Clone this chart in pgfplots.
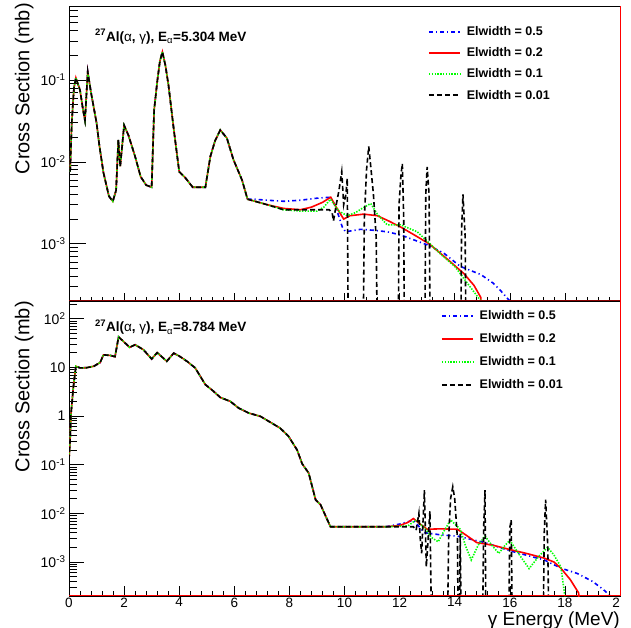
\documentclass[border=0pt]{standalone}
\usepackage{pgfplots}
\pgfplotsset{compat=1.18}
\usepackage{fontspec}
\setmainfont{Liberation Sans}

\definecolor{rblue}{RGB}{0,0,255}
\definecolor{rred}{RGB}{255,0,0}
\definecolor{rgreen}{RGB}{0,255,0}

\tikzset{
  sblue/.style={rblue, line width=1.6pt, dash pattern=on 4pt off 3pt on 1.2pt off 3pt},
  sred/.style={rred, line width=1.6pt},
  sgreen/.style={rgreen, line width=1.6pt, dash pattern=on 1.4pt off 1.4pt},
  sblack/.style={black, line width=1.6pt, dash pattern=on 5pt off 3pt},
}

% 5.304 MeV: part shared by all widths
\pgfplotstableread{
x y
0.04 0.0076
0.1 0.03
0.18 0.08
0.25 0.106
0.4 0.075
0.51 0.043
0.58 0.032
0.68 0.126
0.8 0.07
1.0 0.030
1.1 0.016
1.25 0.0074
1.45 0.0038
1.59 0.0033
1.71 0.0045
1.79 0.0185
1.86 0.0088
2.0 0.028
2.16 0.021
2.4 0.0116
2.6 0.0066
2.8 0.0052
3.0 0.0049
3.09 0.043
3.21 0.10
3.3 0.17
3.39 0.22
3.5 0.15
3.61 0.087
3.79 0.027
4.0 0.0076
4.22 0.0064
4.49 0.0049
4.95 0.0049
5.13 0.0116
5.3 0.018
5.49 0.0245
5.73 0.0195
5.97 0.0106
6.28 0.0060
6.48 0.0035
}\topcommon

% 8.784 MeV: part shared by all widths
\pgfplotstableread{
x y
0.0 0.126
0.04 0.32
0.07 1.06
0.16 4.0
0.25 10.5
0.4 9.7
0.64 9.8
0.9 10.5
1.13 12.5
1.25 18
1.5 17.5
1.67 16.5
1.8 42
2.0 33
2.2 25.7
2.4 29
2.7 23
3.0 14.8
3.2 20
3.55 13.3
3.8 19.5
4.0 17
4.28 13.3
4.58 9.7
4.95 4.4
5.25 3.2
5.49 2.4
5.85 2.0
6.16 1.45
6.52 1.15
6.95 0.98
7.31 0.74
7.67 0.56
7.97 0.38
8.28 0.2
8.46 0.105
8.7 0.067
8.95 0.019
9.13 0.015
9.49 0.0053
11.5 0.0053
}\botcommon

\begin{document}
\begin{tikzpicture}
\path[use as bounding box] (0,0) rectangle (631pt,628pt);

% ---------- top panel ----------
\begin{axis}[at={(69pt,327pt)}, anchor=south west,
    width=551pt, height=295pt, scale only axis,
    xmin=0, xmax=20, ymode=log, ymin=2e-4, ymax=0.8,
    xtick=\empty, ytick pos=left, tick align=inside,
    axis line style={line width=0.8pt},
    every tick/.style={black, line width=0.6pt},
    major tick length=17pt, minor tick length=9pt,
    ytick={1e-3,1e-2,1e-1},
    yticklabels={10\textsuperscript{-3},10\textsuperscript{-2},10\textsuperscript{-1}},
    minor ytick={3e-4,4e-4,5e-4,6e-4,7e-4,8e-4,9e-4,2e-3,3e-3,4e-3,5e-3,6e-3,7e-3,8e-3,9e-3,2e-2,3e-2,4e-2,5e-2,6e-2,7e-2,8e-2,9e-2,2e-1,3e-1,4e-1,5e-1,6e-1,7e-1},
    yticklabel style={font=\fontsize{14}{16}\selectfont},
    ylabel={Cross Section (mb)},
    ylabel style={font=\fontsize{20}{22}\selectfont, inner sep=0pt, at={(axis description cs:-0.0717,1.01)}, anchor=base east},
    legend style={draw=none, fill=none, inner sep=0pt,
      font=\bfseries\fontsize{12.5}{14}\selectfont,
      nodes={inner sep=2pt}, column sep=4pt, row sep=6.5pt,
      at={(axis description cs:0.6515,0.937)}, anchor=north west},
    legend cell align=left,
    legend image code/.code={\draw[#1] (0pt,0pt) -- (31pt,0pt);},
]
\addplot[sblue, forget plot] table {\topcommon};
\addplot[sred, forget plot] table {\topcommon};
\addplot[sgreen, forget plot] table {\topcommon};
\addplot[sblack, forget plot] table {\topcommon};

\addplot[sblue] coordinates {
(6.48,0.0035)(6.7,0.0035)(7.2,0.0034)(7.8,0.0033)(8.4,0.0034)(9.0,0.0036)(9.49,0.0037)
(9.67,0.0029)(9.92,0.0016)(10.04,0.0014)(10.58,0.0015)(11.07,0.00146)(11.55,0.0014)
(12.04,0.00128)(13.0,0.00097)(13.6,0.00077)(14.2,0.00053)(14.95,0.00042)(15.4,0.00033)
(15.7,0.00026)(16.0,0.0002)(16.2,1e-6)(20,1e-6)};
\addlegendentry{Elwidth = 0.5}
\addplot[sred] coordinates {
(6.48,0.0035)(7.19,0.0030)(7.79,0.0027)(8.4,0.0026)(8.8,0.0028)(9.2,0.0032)(9.5,0.0037)
(9.7,0.0028)(9.97,0.0020)(10.2,0.0022)(10.7,0.0023)(11.19,0.0022)(11.6,0.0019)(12.04,0.0016)
(12.5,0.0013)(13.07,0.0010)(13.73,0.00065)(14.34,0.00043)(14.7,0.00031)(14.95,0.00022)
(15.1,1e-6)(20,1e-6)};
\addlegendentry{Elwidth = 0.2}
\addplot[sgreen] coordinates {
(6.48,0.0035)(7.19,0.0030)(7.79,0.0026)(8.4,0.0025)(9.0,0.0025)(9.25,0.0028)(9.49,0.0035)
(9.8,0.0025)(10.1,0.0022)(10.4,0.0024)(10.64,0.0027)(10.95,0.0031)(11.19,0.0023)
(11.55,0.0017)(12.04,0.0017)(12.64,0.0014)(13.2,0.00093)(13.5,0.00074)(14.0,0.00053)
(14.46,0.00033)(14.95,0.0002)(15.1,1e-6)(20,1e-6)};
\addlegendentry{Elwidth = 0.1}
\addplot[sblack] coordinates {
(6.48,0.0035)(7.19,0.0030)(7.79,0.0026)(8.5,0.0026)(9.2,0.0026)(9.45,0.0026)(9.55,0.0024)
(9.6,0.0019)(9.7,0.003)(9.8,0.0045)(9.9,0.0076)(9.97,0.003)(10.05,0.004)(10.1,0.0063)
(10.17,1e-6)(10.62,1e-6)(10.72,0.002)(10.8,0.008)(10.88,0.0154)(10.95,0.009)(11.05,0.004)
(11.15,0.0012)(11.25,1e-6)(11.92,1e-6)(11.98,0.003)(12.05,0.007)(12.1,0.0095)(12.15,0.002)
(12.2,1e-6)(12.88,1e-6)(12.95,0.004)(13.0,0.0087)(13.07,0.004)(13.15,1e-6)(14.18,1e-6)
(14.25,0.0015)(14.3,0.004)(14.38,0.0012)(14.45,1e-6)(20,1e-6)};
\addlegendentry{Elwidth = 0.01}

\node[anchor=base west, inner sep=0pt, font=\bfseries\fontsize{13.5}{15}\selectfont]
  at (axis description cs:0.047,0.881)
  {\textsuperscript{27}Al({\mdseries α}, {\mdseries γ}), E\textsubscript{\mdseries α}=5.304 MeV};
\end{axis}

\begin{axis}[at={(69pt,327pt)}, anchor=south west,
    width=551pt, height=295pt, scale only axis,
    xmin=0, xmax=20, ymin=0, ymax=1,
    hide y axis, axis x line*=bottom, tick align=inside,
    x axis line style={draw=none},
    xtick={0,2,...,20}, minor x tick num=4,
    every tick/.style={black, line width=0.6pt},
    major tick length=8pt, minor tick length=4pt,
    xticklabels={}, clip=false]
\draw[rred, line width=1pt] (rel axis cs:1,0) -- (rel axis cs:1,1);
\draw[rred!55!black, line width=1.4pt] (rel axis cs:0,0) -- (rel axis cs:1,0);
\end{axis}

% ---------- bottom panel ----------
\begin{axis}[at={(69pt,32pt)}, anchor=south west,
    width=551pt, height=295pt, scale only axis,
    xmin=0, xmax=20, ymode=log, ymin=2e-4, ymax=230,
    xtick=\empty, ytick pos=left, tick align=inside,
    axis line style={line width=0.8pt},
    every tick/.style={black, line width=0.6pt},
    major tick length=15pt, minor tick length=8pt,
    ytick={1e-3,1e-2,1e-1,1,10,100},
    yticklabels={10\textsuperscript{-3},10\textsuperscript{-2},10\textsuperscript{-1},1,10,10\textsuperscript{2}},
    minor ytick={3e-4,4e-4,5e-4,6e-4,7e-4,8e-4,9e-4,2e-3,3e-3,4e-3,5e-3,6e-3,7e-3,8e-3,9e-3,2e-2,3e-2,4e-2,5e-2,6e-2,7e-2,8e-2,9e-2,0.2,0.3,0.4,0.5,0.6,0.7,0.8,0.9,2,3,4,5,6,7,8,9,20,30,40,50,60,70,80,90,200},
    yticklabel style={font=\fontsize{14}{16}\selectfont},
    ylabel={Cross Section (mb)},
    ylabel style={font=\fontsize{20}{22}\selectfont, inner sep=0pt, at={(axis description cs:-0.0717,1.0)}, anchor=base east},
    legend style={draw=none, fill=none, inner sep=0pt,
      font=\bfseries\fontsize{12.5}{14}\selectfont,
      nodes={inner sep=2pt}, column sep=4pt, row sep=8.5pt,
      at={(axis description cs:0.675,0.9746)}, anchor=north west},
    legend cell align=left,
    legend image code/.code={\draw[#1] (0pt,0pt) -- (31pt,0pt);},
]
\addplot[sblue, forget plot] table {\botcommon};
\addplot[sred, forget plot] table {\botcommon};
\addplot[sgreen, forget plot] table {\botcommon};
\addplot[sblack, forget plot] table {\botcommon};

\addplot[sblue] coordinates {
(11.5,0.0053)(12.0,0.006)(12.5,0.0072)(12.9,0.0040)(13.5,0.0036)(14.1,0.0034)(15.1,0.0025)
(16.0,0.0017)(17.25,0.0011)(17.85,0.00075)(18.45,0.00058)(19.0,0.0004)(19.4,0.00027)
(19.65,0.0002)(19.8,1e-6)(20,1e-6)};
\addlegendentry{Elwidth = 0.5}
\addplot[sred] coordinates {
(11.5,0.0053)(12.0,0.0056)(12.3,0.0065)(12.5,0.0078)(12.75,0.006)(13.0,0.0047)(13.5,0.0048)
(14.1,0.0047)(14.4,0.0036)(14.8,0.0025)(15.4,0.0022)(16.0,0.0018)(16.6,0.0015)(17.25,0.0012)
(17.6,0.001)(17.85,0.00075)(18.2,0.00043)(18.5,0.00023)(18.6,1e-6)(20,1e-6)};
\addlegendentry{Elwidth = 0.2}
\addplot[sgreen] coordinates {
(11.5,0.0053)(12.3,0.0055)(12.6,0.0073)(12.95,0.0047)(13.15,0.0032)(13.4,0.0026)(13.6,0.0042)
(13.85,0.0073)(14.2,0.0047)(14.4,0.0021)(14.6,0.0011)(14.85,0.0022)(15.1,0.0034)(15.35,0.0022)
(15.6,0.0015)(15.8,0.0021)(16.0,0.0028)(16.35,0.0014)(16.7,0.00073)(17.05,0.0013)
(17.37,0.0020)(17.6,0.0014)(17.85,0.0008)(18.0,0.0002)(18.05,1e-6)(20,1e-6)};
\addlegendentry{Elwidth = 0.1}
\addplot[sblack] coordinates {
(11.5,0.0053)(12.5,0.0053)(12.6,0.0045)(12.7,0.010)(12.75,0.003)(12.8,0.0015)(12.9,0.03)
(12.97,0.0008)(13.05,0.004)(13.1,0.011)(13.2,1e-6)(13.7,1e-6)(13.78,0.003)(13.85,0.02)
(13.93,0.035)(14.0,0.02)(14.1,0.003)(14.15,1e-6)(14.2,0.0038)(14.27,1e-6)(14.98,1e-6)
(15.05,0.005)(15.1,0.03)(15.15,1e-6)(15.93,1e-6)(16.0,0.005)(16.05,0.0073)(16.12,1e-6)
(17.18,1e-6)(17.25,0.004)(17.3,0.019)(17.38,0.002)(17.45,1e-6)(20,1e-6)};
\addlegendentry{Elwidth = 0.01}

\node[anchor=base west, inner sep=0pt, font=\bfseries\fontsize{13.5}{15}\selectfont]
  at (axis description cs:0.047,0.895)
  {\textsuperscript{27}Al({\mdseries α}, {\mdseries γ}), E\textsubscript{\mdseries α}=8.784 MeV};
\end{axis}

\begin{axis}[at={(69pt,32pt)}, anchor=south west,
    width=551pt, height=295pt, scale only axis,
    xmin=0, xmax=20, ymin=0, ymax=1,
    hide y axis, axis x line*=bottom, tick align=inside,
    x axis line style={draw=none},
    xtick={0,2,...,20}, minor x tick num=4,
    every tick/.style={black, line width=0.6pt},
    major tick length=10pt, minor tick length=5pt,
    xticklabels={0,2,4,6,8,10,12,14,16,18,2\phantom{0}},
    xticklabel style={font=\fontsize{13.5}{15}\selectfont, inner sep=0pt, yshift=-1.5pt},
    xlabel={γ Energy (MeV)},
    xlabel style={font=\fontsize{19}{21}\selectfont, at={(axis description cs:1,-0.099)}, anchor=base east, inner sep=0pt},
    clip=false]
\draw[rred, line width=1pt] (rel axis cs:1,0) -- (rel axis cs:1,1);
\draw[rred, line width=1pt] (rel axis cs:0,0) -- (rel axis cs:1,0);
\end{axis}
\end{tikzpicture}
\end{document}
